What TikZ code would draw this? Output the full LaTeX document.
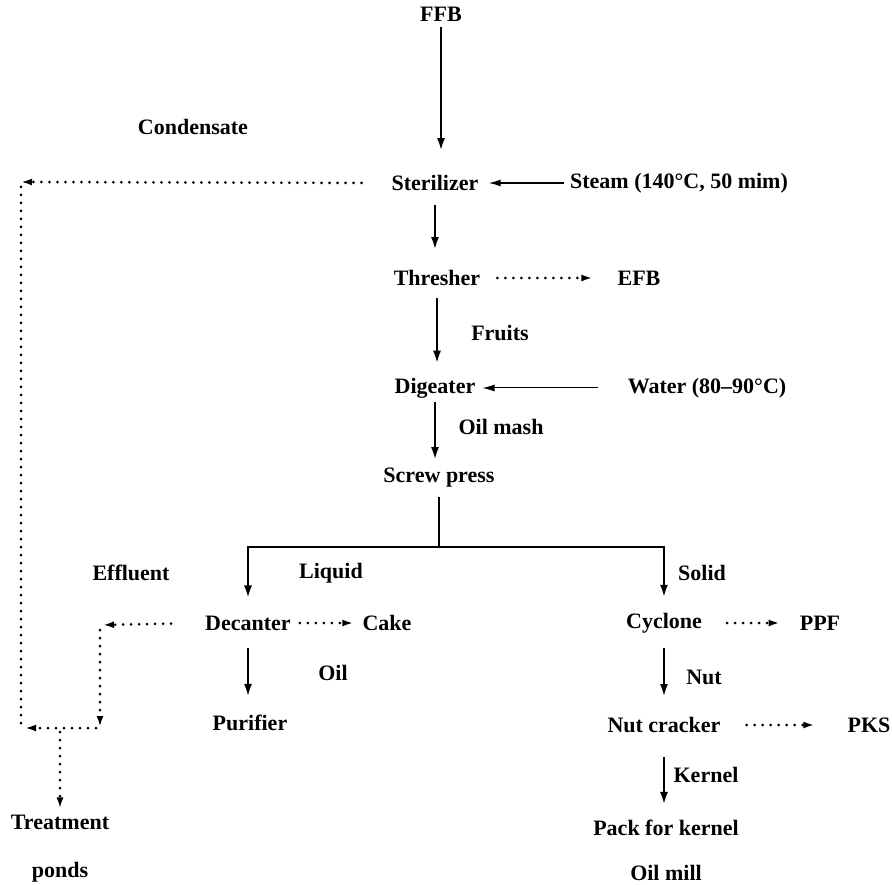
\documentclass[tikz,border=0pt]{standalone}
\usepackage{fontspec}
\setmainfont{Liberation Serif}
\usetikzlibrary{arrows.meta}

\begin{document}
\begin{tikzpicture}[x=1pt,y=-1pt,
    every node/.style={font=\fontsize{22}{26}\selectfont\bfseries, inner sep=2pt},
    flow/.style={line width=2.6pt,-{Latex[length=13pt,width=8pt]}},
    feed/.style={line width=1.6pt,-{Latex[length=12pt,width=7pt]}},
    waste/.style={line width=3pt,line cap=round,dash pattern=on 0pt off 8pt,-{Latex[length=11pt,width=7pt]}},
    wasteline/.style={line width=3pt,line cap=round,dash pattern=on 0pt off 8pt}]
    \useasboundingbox (0,0) rectangle (892,885);

    \node (ffb) at (441,14) {FFB};
    \node (cond) at (193,127) {Condensate};
    \node (ster) at (435,183) {Sterilizer};
    \node (steam) at (679,183) {Steam (140°C, 50 mim)};
    \node (thr) at (437,278) {Thresher};
    \node (efb) at (639,278) {EFB};
    \node (fruits) at (500,333) {Fruits};
    \node (dig) at (435,388) {Digeater};
    \node (water) at (707,388) {Water (80–90°C)};
    \node (oilmash) at (501,427) {Oil mash};
    \node (screw) at (439,478) {Screw press};

    \node (effluent) at (131,573) {Effluent};
    \node (liquid) at (331,573) {Liquid};
    \node (solid) at (702,573) {Solid};

    \node (dec) at (248,623) {Decanter};
    \node (cake) at (387,623) {Cake};
    \node (cyc) at (664,623) {Cyclone};
    \node (ppf) at (820,623) {PPF};
    \node (oil) at (333,673) {Oil};
    \node (nut) at (704,677) {Nut};
    \node (pur) at (250,723) {Purifier};
    \node (nutc) at (664,725) {Nut cracker};
    \node (pks) at (869,725) {PKS};
    \node (kernel) at (706,775) {Kernel};
    \node (treat) at (60,822) {Treatment};
    \node (ponds) at (60,872) {ponds};
    \node (pack) at (666,828) {Pack for kernel};
    \node (oilmill) at (666,873) {Oil mill};

    \coordinate (c1) at (21,182);
    \coordinate (c2) at (21,728);
    \coordinate (e1) at (100,625);
    \coordinate (e2) at (100,728);
    \coordinate (t1) at (60,728);
    \coordinate (split) at (439,547);

    \draw [flow,shorten <=4pt,shorten >=22pt] (ffb.south) -- (ffb.south |- ster.north);
    \draw [feed,shorten <=4pt,shorten >=8pt] (steam.west) -- (ster.east);
    \draw [flow,shorten <=12pt,shorten >=18pt] (ster.south) -- (ster.south |- thr.north);
    \draw [waste,shorten <=15pt,shorten >=23pt] (thr.east) -- (efb.west);
    \draw [flow,shorten <=10pt,shorten >=12pt] (thr.south) -- (thr.south |- dig.north);
    \draw [feed,line width=1pt,shorten <=28pt,shorten >=5pt] (water.west) -- (dig.east);
    \draw [flow,shorten <=2pt,shorten >=6pt] (dig.south) -- (dig.south |- screw.north);

    \draw [line width=2.6pt,shorten <=7pt] (screw.south) -- (split);
    \draw [flow,shorten >=15pt] (split) -| (dec.north);
    \draw [flow,shorten >=13pt] (split) -| (cyc.north);

    \draw [waste,shorten <=7pt,shorten >=7pt] (dec.east) -- (cake.west);
    \draw [flow,shorten <=15pt,shorten >=16pt] (dec.south) -- (dec.south |- pur.north);
    \draw [waste,shorten <=23pt,shorten >=18pt] (cyc.east) -- (ppf.west);
    \draw [flow,shorten <=13pt,shorten >=18pt] (cyc.south) -- (cyc.south |- nutc.north);
    \draw [waste,shorten <=24pt,shorten >=31pt] (nutc.east) -- (pks.west);
    \draw [flow,shorten <=22pt,shorten >=13pt] (nutc.south) -- (nutc.south |- pack.north);

    \draw [waste,shorten <=28pt] (ster.west) -- (c1);
    \draw [wasteline,shorten <=5pt] (c1) -- (c2);
    \draw [waste,shorten <=32pt,shorten >=3pt] (dec.west) -- (e1);
    \draw [waste,shorten <=5pt,shorten >=1pt] (e1) -- (e2);
    \draw [waste,shorten <=4pt,shorten >=4pt] (e2) -- (c2);
    \draw [waste,shorten <=4pt,shorten >=4pt] (t1) -- (treat.north);
\end{tikzpicture}
\end{document}
